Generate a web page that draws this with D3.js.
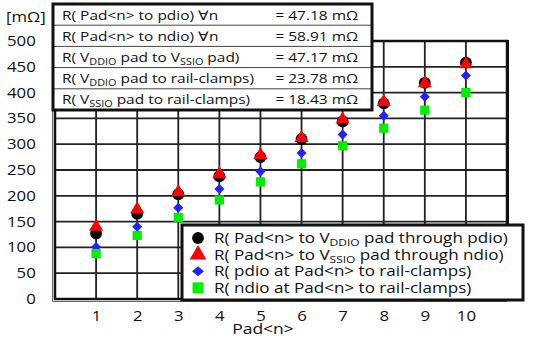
<!DOCTYPE html>
<html><head><meta charset="utf-8">
<script src="https://cdn.jsdelivr.net/npm/d3@7"></script>
<style>body{margin:0;background:#fff}svg{display:block}text{font-family:"Open Sans",sans-serif;fill:#111}</style>
</head><body><svg id="c" width="553" height="345"></svg>
<script>
const pads = [1,2,3,4,5,6,7,8,9,10];
const viaPdio = [127,165,203,238,275,310,344,379,419,458];
const viaNdio = [140,174,207,242,279,312,348,382,418,455];
const pdioClamp = [101,140,177,213,247,283,319,355,392,433];
const ndioClamp = [88,123,158,192,227,262,297,331,366,400];
const yTicks = [0,50,100,150,200,250,300,350,400,450,500];
const tableLabels = [
  [["R( Pad<n> to pdio) ∀n",""]],
  [["R( Pad<n> to ndio) ∀n",""]],
  [["R( V",""],["DDIO","sub"],[" pad to V",""],["SSIO","sub"],[" pad)",""]],
  [["R( V",""],["DDIO","sub"],[" pad to rail-clamps)",""]],
  [["R( V",""],["SSIO","sub"],[" pad to rail-clamps)",""]]
];
const tableValues = ["= 47.18 mΩ","= 58.91 mΩ","= 47.17 mΩ","= 23.78 mΩ","= 18.43 mΩ"];
const legendRows = [
  [["R( Pad<n> to V",""],["DDIO","sub"],[" pad through pdio)",""]],
  [["R( Pad<n> to V",""],["SSIO","sub"],[" pad through ndio)",""]],
  [["R( pdio at Pad<n> to rail-clamps)",""]],
  [["R( ndio at Pad<n> to rail-clamps)",""]]
];

const SX = 1.2;
const svg = d3.select("#c");
const L=55, R=507, T=41, B=299;
const x = d3.scaleLinear().domain([0,11]).range([L,R]);
const y = d3.scaleLinear().domain([0,500]).range([B,T]);

// grid
const g = svg.append("g");
g.selectAll(".h").data(yTicks.slice(1,-1)).enter().append("line")
  .attr("x1",L).attr("x2",R).attr("y1",d=>y(d)).attr("y2",d=>y(d))
  .attr("stroke","#222").attr("stroke-width",1.8);
g.selectAll(".v").data(pads).enter().append("line")
  .attr("y1",T).attr("y2",B).attr("x1",d=>x(d)).attr("x2",d=>x(d))
  .attr("stroke","#222").attr("stroke-width",1.8);
// frame
svg.append("rect").attr("x",L).attr("y",T).attr("width",R-L).attr("height",B-T)
  .attr("fill","none").attr("stroke","#111").attr("stroke-width",2.5);
svg.append("line").attr("x1",R+1).attr("x2",R+1).attr("y1",T-1).attr("y2",B+1).attr("stroke","#111").attr("stroke-width",2);
svg.append("line").attr("x1",L-2.5).attr("x2",L-2.5).attr("y1",T).attr("y2",B+2.5).attr("stroke","#666").attr("stroke-width",1);
svg.append("line").attr("x1",L-2.5).attr("x2",R).attr("y1",B+2.5).attr("y2",B+2.5).attr("stroke","#666").attr("stroke-width",1);

// axes
const yAxis = d3.axisLeft(y).tickValues(yTicks).tickSize(0).tickPadding(16);
const ya = svg.append("g").attr("transform",`translate(${L},0)`).call(yAxis);
ya.select(".domain").remove();
ya.selectAll("text").style("font-family",'"Open Sans",sans-serif').style("font-size","14px").attr("fill","#111")
  .attr("transform",`scale(${SX},1)`);
const xAxis = d3.axisBottom(x).tickValues(pads).tickSize(0).tickPadding(12);
const xa = svg.append("g").attr("transform",`translate(0,${B})`).call(xAxis);
xa.select(".domain").remove();
xa.selectAll("text").style("font-family",'"Open Sans",sans-serif').style("font-size","14px").attr("fill","#111")
  .attr("transform",`scale(${SX},1)`);

function richText(parent, xx, yy, parts, fs, anchor, sx){
  const gg = parent.append("g").attr("transform",`translate(${xx},${yy}) scale(${sx||SX},1)`);
  const t = gg.append("text").style("font-size",fs+"px").attr("text-anchor",anchor||"start");
  let sub=false;
  parts.forEach(p=>{
    const s = t.append("tspan").text(p[0]);
    if(p[1]==="sub"){ s.style("font-size",(fs*0.7)+"px"); if(!sub){s.attr("dy",3);} sub=true; }
    else { if(sub){s.attr("dy",-3);} sub=false; }
  });
  return t;
}
richText(svg, 263, 334, [["Pad<n>",""]], 14, "middle", 1.25);
richText(svg, 6, 22, [["[mΩ]",""]], 14, "start", 1.2);

// markers
const sym = (type,size)=>d3.symbol().type(type).size(size)();
function plot(vals, path, color){
  svg.append("g").selectAll("path").data(vals).enter().append("path")
    .attr("d",path).attr("fill",color)
    .attr("transform",(d,i)=>`translate(${x(pads[i])},${y(d)})`);
}
plot(viaPdio, sym(d3.symbolCircle,110), "#000");
plot(viaNdio, sym(d3.symbolTriangle,85), "#ff0000");
plot(pdioClamp, "M0,-5L5,0L0,5L-5,0Z", "#2222ff");
plot(ndioClamp, sym(d3.symbolSquare,85), "#00ee00");

// table
const tb = svg.append("g");
const tX=53, tY=4, tW=319, rowH=21.2;
tb.append("rect").attr("x",tX).attr("y",tY).attr("width",tW).attr("height",rowH*5).attr("fill","#fff");
tableLabels.forEach((parts,i)=>{
  if(i>0) tb.append("line").attr("x1",tX).attr("x2",tX+tW).attr("y1",tY+rowH*i).attr("y2",tY+rowH*i).attr("stroke","#444").attr("stroke-width",1);
  richText(tb, 62, tY+rowH*i+15.5, parts, 13, "start", 1.19);
  richText(tb, 358, tY+rowH*i+15.5, [[tableValues[i],""]], 13, "end", 1.19);
});
tb.append("rect").attr("x",tX).attr("y",tY).attr("width",tW).attr("height",rowH*5).attr("fill","none").attr("stroke","#111").attr("stroke-width",3);

// legend
const lg = svg.append("g");
const lX=182, lY=225, lW=341, lH=75;
lg.append("rect").attr("x",lX).attr("y",lY).attr("width",lW).attr("height",lH).attr("fill","#fff").attr("stroke","#111").attr("stroke-width",3);
const lsyms = [sym(d3.symbolCircle,110), sym(d3.symbolTriangle,120), "M0,-5L6,0L0,5L-6,0Z", sym(d3.symbolSquare,120)];
const lcols = ["#000","#ff0000","#2222ff","#00ee00"];
legendRows.forEach((r,i)=>{
  const cy = lY+13+i*16.6;
  lg.append("path").attr("d",lsyms[i]).attr("fill",lcols[i]).attr("transform",`translate(198,${cy})`);
  richText(lg, 214, cy+5, r, 14, "start", 1.22);
});
</script></body></html>
